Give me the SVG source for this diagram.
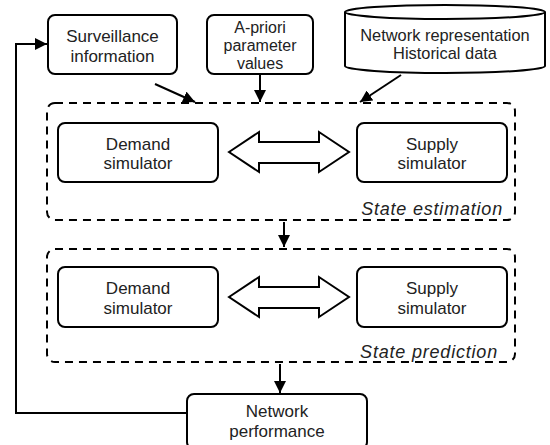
<svg xmlns="http://www.w3.org/2000/svg" width="550" height="445" viewBox="0 0 550 445">
<defs>
<style>
.box{fill:#fff;stroke:#000;stroke-width:2}
.dash{fill:none;stroke:#000;stroke-width:2;stroke-dasharray:8,6}
.t{font-family:"Liberation Sans",Arial,sans-serif;font-size:17px;fill:#222;text-anchor:middle}
.it{font-family:"Liberation Sans",Arial,sans-serif;font-size:18px;letter-spacing:0.8px;font-style:italic;fill:#222;text-anchor:end}
.ln{fill:none;stroke:#000;stroke-width:2}
.dbl{fill:#fff;stroke:#000;stroke-width:2;stroke-linejoin:miter}
</style>
<marker id="ah" viewBox="0 0 10 10" refX="10" refY="5" markerWidth="6" markerHeight="6" orient="auto" markerUnits="strokeWidth">
<path d="M0,0 L10,5 L0,10 z" fill="#000"/>
</marker>
</defs>
<g id="surveillance">
<rect class="box" x="48" y="15" width="129" height="59" rx="7"/>
<text class="t" x="112.5" y="42">Surveillance</text>
<text class="t" x="112.5" y="62">information</text>
</g>
<g id="apriori">
<rect class="box" x="207" y="15" width="106" height="59" rx="7"/>
<text class="t" x="260" y="33" style="font-size:16px">A-priori</text>
<text class="t" x="260" y="51" style="font-size:16px">parameter</text>
<text class="t" x="260" y="69" style="font-size:16px">values</text>
</g>
<g id="network-data">
<path class="box" d="M345,12 L345,66 A100,7 0 0 0 545,66 L545,12"/>
<ellipse class="box" cx="445" cy="12" rx="100" ry="7"/>
<text class="t" x="445" y="41" style="font-size:16.4px">Network representation</text>
<text class="t" x="445" y="59" style="font-size:16.4px">Historical data</text>
</g>
<g id="state-estimation">
<rect class="dash" x="47" y="103" width="468" height="117" rx="8"/>
<text class="it" x="503" y="215">State estimation</text>
</g>
<g id="demand1">
<rect class="box" x="58" y="123" width="160" height="59" rx="7"/>
<text class="t" x="138" y="150">Demand</text>
<text class="t" x="138" y="169">simulator</text>
</g>
<g id="supply1">
<rect class="box" x="357" y="123" width="150" height="59" rx="7"/>
<text class="t" x="432" y="150">Supply</text>
<text class="t" x="432" y="169">simulator</text>
</g>
<g id="state-prediction">
<rect class="dash" x="47" y="249" width="468" height="113" rx="8"/>
<text class="it" x="498" y="358">State prediction</text>
</g>
<g id="demand2">
<rect class="box" x="58" y="267" width="160" height="60" rx="7"/>
<text class="t" x="138" y="294">Demand</text>
<text class="t" x="138" y="314">simulator</text>
</g>
<g id="supply2">
<rect class="box" x="357" y="267" width="150" height="60" rx="7"/>
<text class="t" x="432" y="294">Supply</text>
<text class="t" x="432" y="314">simulator</text>
</g>
<g id="network-performance">
<rect class="box" x="187" y="394" width="180" height="55" rx="7"/>
<text class="t" x="277" y="417">Network</text>
<text class="t" x="277" y="437">performance</text>
</g>
<g id="connectors">
<line class="ln" x1="155" y1="84" x2="195" y2="102" marker-end="url(#ah)"/>
<line class="ln" x1="260" y1="74" x2="260" y2="102" marker-end="url(#ah)"/>
<line class="ln" x1="401" y1="75" x2="360" y2="102" marker-end="url(#ah)"/>
<line class="ln" x1="284" y1="222" x2="284" y2="247" marker-end="url(#ah)"/>
<line class="ln" x1="280" y1="364" x2="280" y2="393" marker-end="url(#ah)"/>
<polyline class="ln" points="187,413 16,413 16,44 47,44" marker-end="url(#ah)"/>
<path class="dbl" d="M229,152 L259,132 L259,142 L319,142 L319,132 L349,152 L319,172 L319,163 L259,163 L259,172 Z"/>
<path class="dbl" d="M229,297 L259,277 L259,287 L319,287 L319,277 L349,297 L319,317 L319,308 L259,308 L259,317 Z"/>
</g>
</svg>
